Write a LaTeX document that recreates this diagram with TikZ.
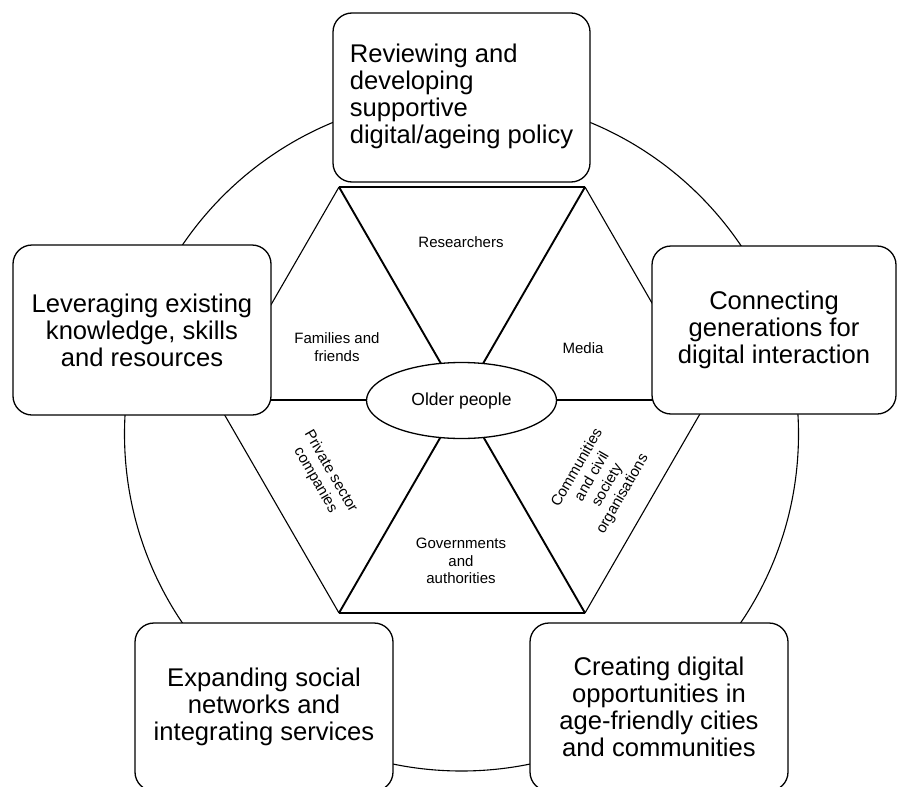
\documentclass[tikz,border=0pt]{standalone}
\usepackage{fontspec}
\setmainfont{Liberation Sans}
\usetikzlibrary{shapes.geometric}
\tikzset{
	goal/.style={draw, line width=1.3pt, rounded corners=19pt, fill=white, align=center, inner sep=0pt, font=\fontsize{25.6}{27}\selectfont},
	actor/.style={align=center, inner sep=0pt, font=\fontsize{15}{17.5}\selectfont},
	edge thin/.style={line width=1.1pt},
	edge thick/.style={line width=1.9pt}
}
\begin{document}
\begin{tikzpicture}[x=1pt,y=-1pt]
	\useasboundingbox (0,0) rectangle (897,787);
	% outer ring
	\draw [edge thin] (461.5,434) circle (337pt);
	% hexagon corners
	\coordinate (tl) at (339,187);
	\coordinate (tr) at (585,187);
	\coordinate (r) at (708,400);
	\coordinate (br) at (585,613);
	\coordinate (bl) at (339,613);
	\coordinate (l) at (216,400);
	\draw [edge thin] (tl) -- (l) -- (bl);
	\draw [edge thin] (tr) -- (r) -- (br);
	\draw [edge thin] (l) -- (r);
	\draw [edge thick] (tl) -- (tr);
	\draw [edge thick] (bl) -- (br);
	\draw [edge thick] (tl) -- (br);
	\draw [edge thick] (tr) -- (bl);
	% centre
	\node [draw, ellipse, fill=white, line width=1.3pt, minimum width=190pt, minimum height=76pt, inner sep=0pt, font=\fontsize{17.5}{20}\selectfont] (older) at (461.5,400.5) {Older people};
	% actors
	\node [actor] (researchers) at (461,242) {Researchers};
	\node [actor] (families) at (337,347) {Families and\\friends};
	\node [actor] (media) at (583,348) {Media};
	\node [actor, rotate=-60] (private) at (323,476) {Private sector\\companies};
	\node [actor] (governments) at (461,561) {Governments\\and\\authorities};
	\node [actor, rotate=60] (communities) at (600,481) {Communities\\and civil\\society\\organisations};
	% goals
	\node [goal, minimum width=257pt, minimum height=169pt] (review) at (461.5,97.5) {\begin{tabular}{@{}l@{}}Reviewing and\\developing\\supportive\\digital/ageing policy\end{tabular}};
	\node [goal, minimum width=258pt, minimum height=170pt] (leverage) at (142,330) {Leveraging existing\\knowledge, skills\\and resources};
	\node [goal, minimum width=244pt, minimum height=168pt] (connect) at (774,330) {Connecting\\generations for\\digital interaction};
	\node [goal, minimum width=258pt, minimum height=168pt] (expand) at (264,707) {Expanding social\\networks and\\integrating services};
	\node [goal, minimum width=258pt, minimum height=168pt] (create) at (659,707) {Creating digital\\opportunities in\\age-friendly cities\\and communities};
\end{tikzpicture}
\end{document}
